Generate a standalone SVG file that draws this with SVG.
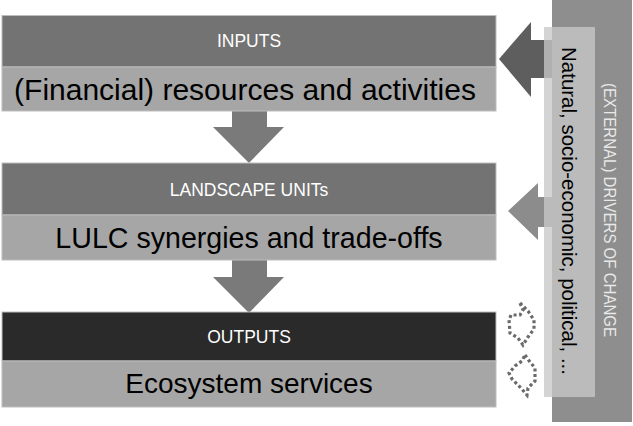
<svg xmlns="http://www.w3.org/2000/svg" width="633" height="426" viewBox="0 0 633 426">
<style>
.hd{fill:#737373;stroke:#bdbdbd;stroke-width:1}
.lt{fill:#a6a6a6;stroke:#bdbdbd;stroke-width:1}
.t1{font-family:"Liberation Sans",Arial,sans-serif;font-size:17.5px;fill:#ffffff;text-anchor:middle}
.t2{font-family:"Liberation Sans",Arial,sans-serif;fill:#000000;text-anchor:middle}
.down{fill:#7a7a7a}
.dot{fill:none;stroke:#6a6a6a;stroke-width:3.2;stroke-dasharray:3 2.6}
</style>
<rect width="633" height="426" fill="#ffffff"/>
<g id="drivers">
<rect x="552" y="0" width="80" height="422" fill="#8e8e8e"/>
</g>
<g id="connectors">
<polygon points="499,59 531,22 531,40 552,40 552,78 531,78 531,97" fill="#5e5e5e"/>
<polygon points="508,211 538,183 538,197 552,197 552,227 538,227 538,240" fill="#8c8c8c"/>
<polygon class="down" points="232,111 267,111 267,127 284,127 249,163 213,127 232,127"/>
<polygon class="down" points="232,260 267,260 267,277 284,277 249,313 213,277 232,277"/>
<path class="dot" d="M520,303 L528,311 L534,320 L534,329 L528,337 L523,345 L518,338 L510,333 L509,320 L511,315 L520,315 L523,310 Z"/>
<path class="dot" d="M525,355 L530,362 L535,368 L535,381 L528,388 L527,395 L520,387 L512,379 L509,373 L515,366 L522,361 Z"/>
</g>
<g id="factors">
<rect x="544" y="27" width="51" height="370" fill="#c8c8c8" opacity="0.78"/>
<text transform="translate(562,211) rotate(90)" class="t2" font-size="21" textLength="328" lengthAdjust="spacingAndGlyphs">Natural, socio-economic, political, ...</text>
<text transform="translate(604,210) rotate(90)" font-family="Liberation Sans,Arial,sans-serif" font-size="16" fill="#e8e8e8" text-anchor="middle" textLength="254" lengthAdjust="spacingAndGlyphs">(EXTERNAL) DRIVERS OF CHANGE</text>
</g>
<g id="inputs">
<rect class="hd" x="2" y="15.5" width="494" height="51.5"/>
<rect class="lt" x="2" y="67" width="494" height="44"/>
<text class="t1" x="249" y="47">INPUTS</text>
<text class="t2" x="245" y="100" font-size="30">(Financial) resources and activities</text>
</g>
<g id="landscape">
<rect class="hd" x="2" y="163" width="494" height="52"/>
<rect class="lt" x="2" y="215" width="494" height="45"/>
<text class="t1" x="249" y="196">LANDSCAPE UNITs</text>
<text class="t2" x="249" y="248" font-size="28.6">LULC synergies and trade-offs</text>
</g>
<g id="outputs">
<rect x="2" y="312" width="494" height="49" fill="#2a2a2a" stroke="#bdbdbd" stroke-width="1"/>
<rect class="lt" x="2" y="361" width="494" height="46"/>
<text class="t1" x="249" y="343" font-size="18">OUTPUTS</text>
<text class="t2" x="249" y="393" font-size="28">Ecosystem services</text>
</g>
</svg>
